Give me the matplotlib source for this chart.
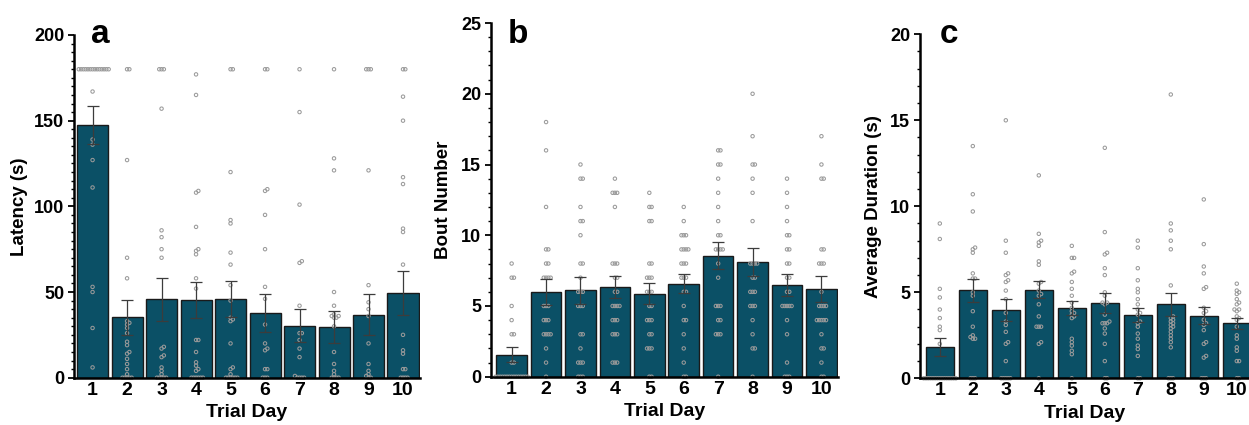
import numpy as np
import matplotlib
matplotlib.use("Agg")
import matplotlib.pyplot as plt
from matplotlib.ticker import MultipleLocator

plt.rcParams['font.family'] = ['Liberation Sans', 'DejaVu Sans']
plt.rcParams['font.weight'] = 'bold'

days = [1, 2, 3, 4, 5, 6, 7, 8, 9, 10]
day_labels = ["1", "2", "3", "4", "5", "6", "7", "8", "9", "10"]

# Panel a: latency (s)
latency_mean = [147.5, 35.2, 45.7, 45.3, 45.7, 37.9, 30.2, 29.6, 36.8, 49.4]
latency_sem = [10.9, 10.3, 12.6, 10.4, 10.5, 11.1, 9.6, 9.2, 12.0, 12.8]
latency_points = [
    [180] * 14 + [167, 139, 136, 127, 111, 53, 50, 29, 6],
    [180, 180, 127, 70, 58, 33, 32, 31, 29, 26, 21, 19, 15, 14, 11, 8, 5, 2, 0, 0, 0, 0, 0],
    [180, 180, 180, 157, 86, 82, 75, 70, 18, 17, 13, 12, 6, 4, 2, 0, 0, 0, 0, 0],
    [177, 165, 109, 108, 88, 75, 74, 72, 58, 52, 22, 22, 15, 9, 7, 5, 4, 0, 0, 0, 0, 0, 0],
    [180, 180, 120, 92, 90, 73, 66, 54, 45, 35, 34, 33, 20, 6, 5, 2, 0, 0, 0, 0, 0, 0],
    [180, 180, 110, 109, 95, 75, 53, 46, 31, 20, 17, 16, 5, 5, 0, 0, 0],
    [180, 155, 101, 68, 67, 42, 26, 26, 22, 17, 12, 1, 0, 0, 0, 0],
    [180, 128, 121, 50, 42, 37, 36, 36, 35, 35, 30, 15, 8, 4, 2, 0, 0, 0, 0],
    [180, 180, 180, 121, 54, 44, 40, 36, 20, 8, 4, 2, 1, 0, 0],
    [180, 180, 164, 150, 117, 113, 87, 85, 66, 25, 16, 14, 5, 5, 0, 0, 0, 0],
]

# Panel b: bout number
bout_mean = [1.54, 5.98, 6.12, 6.33, 5.88, 6.57, 8.56, 8.11, 6.48, 6.19]
bout_sem = [0.53, 0.94, 0.96, 0.79, 0.77, 0.68, 0.93, 1.0, 0.8, 0.94]
bout_points = [
    [8, 7, 7, 5, 4, 3, 3, 1, 1] + [0] * 15,
    [18, 16, 12, 9, 9, 8, 8, 7, 7, 7, 7, 5, 5, 5, 4, 4, 4, 3, 3, 3, 3, 2, 1, 0],
    [15, 14, 14, 12, 11, 11, 10, 8, 8, 7, 6, 6, 6, 5, 5, 5, 3, 3, 2, 1, 1, 1, 0, 0, 0],
    [14, 13, 13, 13, 12, 8, 8, 8, 7, 7, 6, 6, 5, 5, 5, 5, 4, 4, 4, 3, 3, 3, 1, 1, 1],
    [13, 12, 12, 11, 11, 8, 8, 7, 7, 7, 6, 6, 6, 5, 5, 4, 4, 4, 3, 3, 2, 2, 2, 0, 0],
    [12, 11, 10, 10, 10, 9, 9, 9, 9, 8, 8, 8, 7, 7, 7, 6, 6, 5, 4, 4, 3, 2, 1, 0, 0],
    [16, 16, 15, 15, 14, 13, 12, 11, 10, 10, 9, 9, 9, 9, 8, 7, 5, 5, 5, 4, 4, 3, 3, 3, 0],
    [20, 17, 15, 15, 14, 13, 11, 8, 8, 8, 8, 7, 7, 6, 6, 6, 5, 5, 5, 4, 3, 2, 2, 0],
    [14, 13, 12, 11, 10, 10, 9, 9, 8, 8, 7, 7, 6, 6, 5, 5, 5, 5, 5, 4, 3, 1, 0, 0, 0],
    [17, 15, 14, 14, 9, 9, 8, 8, 8, 6, 5, 5, 5, 5, 4, 4, 4, 4, 4, 3, 2, 2, 1, 0, 0],
]

# Panel c: average duration (s)
duration_mean = [1.8, 5.12, 3.95, 5.15, 4.1, 4.4, 3.7, 4.3, 3.65, 3.2]
duration_sem = [0.53, 0.66, 0.64, 0.5, 0.42, 0.58, 0.4, 0.65, 0.47, 0.33]
duration_points = [
    [9.0, 8.1, 5.2, 4.7, 4.0, 3.5, 3.0, 2.8, 2.0] + [0] * 15,
    [13.5, 10.7, 9.7, 7.6, 7.5, 7.3, 6.1, 5.8, 5.8, 5.0, 4.8, 3.9, 3.0, 2.5, 2.4, 2.3, 2.3, 0, 0, 0],
    [15.0, 8.0, 7.3, 6.1, 6.0, 5.7, 5.6, 5.1, 4.6, 3.8, 3.3, 3.1, 2.7, 2.1, 2.0, 1.0, 0, 0, 0, 0, 0],
    [11.8, 8.4, 8.0, 7.9, 7.7, 6.8, 6.6, 5.6, 5.5, 5.1, 4.9, 4.8, 4.3, 3.6, 3.0, 3.0, 3.0, 2.1, 2.0, 0],
    [7.7, 7.0, 7.0, 6.2, 6.1, 5.6, 5.2, 4.8, 4.4, 4.1, 3.9, 3.8, 3.7, 3.6, 3.5, 2.3, 2.1, 1.9, 1.6, 1.4, 0],
    [13.4, 8.5, 7.3, 7.2, 6.4, 6.0, 5.0, 4.8, 4.4, 4.4, 4.3, 3.7, 3.3, 3.2, 3.2, 3.2, 2.9, 2.6, 2.0, 1.0, 0, 0],
    [8.0, 7.6, 6.4, 5.7, 5.2, 5.0, 4.6, 4.3, 4.0, 3.8, 3.7, 3.3, 3.2, 3.0, 2.6, 2.3, 1.9, 1.7, 1.3, 0, 0],
    [16.5, 9.0, 8.6, 8.0, 7.5, 5.4, 3.6, 3.5, 3.4, 3.3, 3.2, 3.1, 3.0, 2.9, 2.7, 2.5, 2.3, 2.1, 1.8, 0, 0, 0],
    [10.4, 7.8, 6.5, 6.1, 5.3, 5.2, 4.1, 3.9, 3.8, 3.4, 3.2, 3.1, 2.8, 2.1, 2.0, 1.3, 1.2, 0, 0, 0],
    [5.5, 5.1, 5.0, 4.9, 4.6, 4.4, 4.3, 4.0, 4.0, 3.9, 3.6, 3.5, 3.4, 3.0, 2.5, 2.3, 1.8, 1.6, 1.0, 1.0, 0, 0],
]

BAR_COLOR = "#0b5066"
ERR_COLOR = "#3c3c3c"
PT_COLOR = "#9a9a9a"

fig = plt.figure(figsize=(12.49, 4.25), dpi=100)

panels = [
    dict(rect=[0.0592, 0.1113, 0.2770, 0.8064], mean=latency_mean, sem=latency_sem,
         pts=latency_points, ylim=(0, 200), major=50, minor=5, xlim=(0.46, 10.49),
         ylabel="Latency (s)", letter="a", letter_xy=(0.048, 0.976), width=0.9, ylab_x=-0.133),
    dict(rect=[0.3931, 0.1136, 0.2778, 0.8322], mean=bout_mean, sem=bout_sem,
         pts=bout_points, ylim=(0, 25), major=5, minor=1, xlim=(0.40, 10.48),
         ylabel="Bout Number", letter="b", letter_xy=(0.047, 0.943), width=0.89, ylab_x=-0.113),
    dict(rect=[0.7366, 0.1099, 0.2634, 0.8094], mean=duration_mean, sem=duration_sem,
         pts=duration_points, ylim=(0, 20), major=5, minor=1, xlim=(0.40, 10.37),
         ylabel="Average Duration (s)", letter="c", letter_xy=(0.059, 0.974), width=0.86, ylab_x=-0.116),
]


def swarm_offsets(ax, x0, ys, dpx=2.3):
    # beeswarm layout in pixel space, returns data x positions
    inv = ax.transData.inverted()
    pix = [ax.transData.transform((x0, y)) for y in ys]
    order = np.argsort(ys, kind="stable")
    placed = []
    xs = [x0] * len(ys)
    cands = [0]
    for j in range(1, 40):
        cands += [j, -j]
    for i in order:
        px, py = pix[i]
        for c in cands:
            cx = px + c * dpx
            ok = True
            for (qx, qy) in placed:
                if (cx - qx) ** 2 + (py - qy) ** 2 < (dpx * 0.97) ** 2:
                    ok = False
                    break
            if ok:
                placed.append((cx, py))
                xs[i] = inv.transform((cx, py))[0]
                break
    return xs


for p in panels:
    ax = fig.add_axes(p["rect"])
    ax.set_xlim(*p["xlim"])
    ax.set_ylim(*p["ylim"])
    ax.bar(days, p["mean"], width=p["width"], color=BAR_COLOR, edgecolor="#1a1a1a",
           linewidth=1.0, zorder=1)
    for d, ys in zip(days, p["pts"]):
        xs = swarm_offsets(ax, d, ys)
        ax.scatter(xs, ys, s=6, facecolor="none", edgecolor=PT_COLOR, linewidths=0.75,
                   zorder=2, clip_on=False)
    ax.errorbar(days, p["mean"], yerr=p["sem"], fmt="none", ecolor=ERR_COLOR,
                elinewidth=0.9, capsize=4.6, capthick=0.9, zorder=3)
    for s in ["top", "right"]:
        ax.spines[s].set_visible(False)
    for s in ["left", "bottom"]:
        ax.spines[s].set_linewidth(1.8)
    ax.yaxis.set_major_locator(MultipleLocator(p["major"]))
    ax.yaxis.set_minor_locator(MultipleLocator(p["minor"]))
    ax.set_xticks(days)
    ax.set_xticklabels(day_labels)
    ax.tick_params(axis="x", length=0, pad=3, labelsize=14)
    ax.tick_params(axis="y", which="major", length=4, width=1.3, labelsize=13, pad=3)
    ax.tick_params(axis="y", which="minor", length=2.5, width=1.0)
    for lab in ax.get_xticklabels() + ax.get_yticklabels():
        lab.set_fontweight("bold")
    ax.set_xlabel("Trial Day", fontsize=14, fontweight="bold", labelpad=4)
    ax.set_ylabel(p["ylabel"], fontsize=13.5, fontweight="bold")
    ax.yaxis.set_label_coords(p["ylab_x"], 0.5)
    ax.text(p["letter_xy"][0], p["letter_xy"][1], p["letter"], transform=ax.transAxes,
            fontsize=24, fontweight="bold", va="baseline", ha="left")

fig.savefig("out.png", dpi=100)
